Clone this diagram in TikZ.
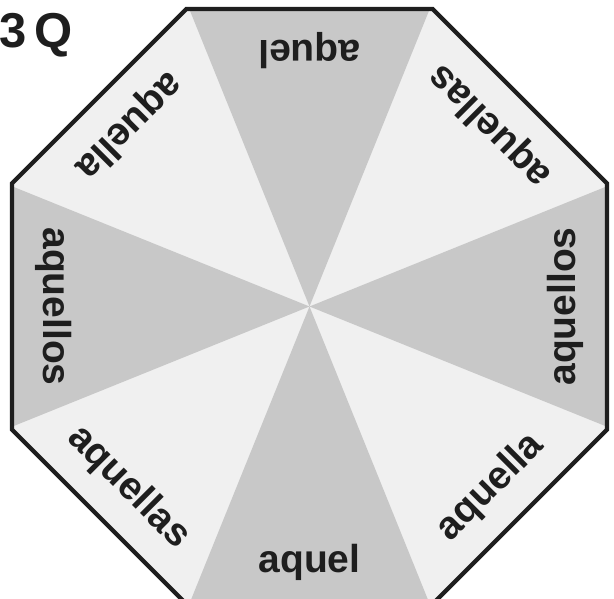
\documentclass[tikz,border=0pt]{standalone}
\usepackage{fontspec}
\setmainfont{Liberation Sans}
\usetikzlibrary{calc}
\definecolor{lightwedge}{HTML}{F0F0F0}
\definecolor{darkwedge}{HTML}{C8C8C8}
\definecolor{ink}{HTML}{1E1E1E}
\tikzset{
    wedge/.style={fill=darkwedge, draw=none},
    rim/.style={draw=ink, line width=4.2pt, line join=miter},
    word/.style={font=\fontsize{39}{40}\selectfont\bfseries, text=ink,
                 inner sep=0pt, anchor=base},
    tag/.style={font=\fontsize{49}{50}\selectfont\bfseries, text=ink,
                inner sep=0pt, anchor=base west},
}

\begin{document}
\begin{tikzpicture}[x=1pt, y=1pt]

    \useasboundingbox (-309.5,-291.5) rectangle (304.5,306.5);
    \clip (-309.5,-291.5) rectangle (304.5,306.5);

    \coordinate (c) at (0,0);
    \foreach \k in {1,...,8}
        \coordinate (v\k) at ({45*\k-22.5}:322);

    % light octagon, dark wedges on the upright sides
    \fill[lightwedge] (v1) -- (v2) -- (v3) -- (v4) -- (v5) -- (v6) -- (v7) -- (v8) -- cycle;
    \foreach \a/\b in {8/1, 2/3, 4/5, 6/7}
        \fill[wedge] (c) -- ($(v\a)!3pt!(v\b)$) -- ($(v\b)!3pt!(v\a)$) -- cycle;
    \draw[rim] (v1) -- (v2) -- (v3) -- (v4) -- (v5) -- (v6) -- (v7) -- (v8) -- cycle;

    % words, feet towards the rim
    \foreach \ang/\txt [count=\i, evaluate=\ang as \rot using \ang+90] in
        {90/aquel, 45/aquellas, 0/aquellos, 315/aquella,
         270/aquel, 225/aquellas, 180/aquellos, 135/aquella}
        \node[word, rotate=\rot] (w\i) at (\ang:266) {\txt};

    \node[tag] (label) at (-310.5,259.5) {3\,Q};

\end{tikzpicture}
\end{document}
